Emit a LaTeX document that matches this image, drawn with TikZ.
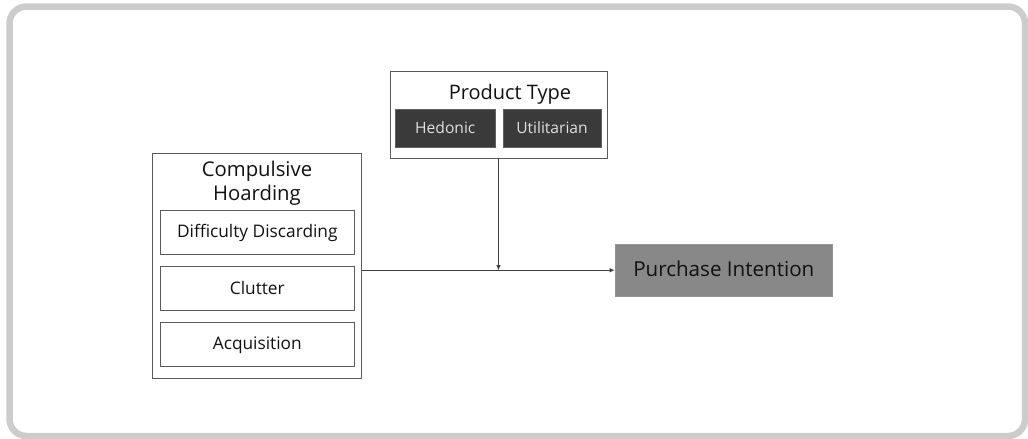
\documentclass[tikz,border=0pt]{standalone}
\usepackage{fontspec}
\setmainfont{Open Sans}
\usetikzlibrary{arrows.meta}
\definecolor{frame}{HTML}{CCCCCC}
\definecolor{edge}{HTML}{5A5A5A}
\definecolor{darkbox}{HTML}{3A3A3A}
\definecolor{midgray}{HTML}{888888}
\definecolor{txt}{HTML}{111111}
\tikzset{
  box/.style={draw=edge, line width=0.9pt, inner sep=0pt, anchor=center, text=txt},
  subbox/.style={box, text height=15.6pt, text depth=4.3pt, minimum width=193.3pt, minimum height=43.3pt, font=\fontsize{17.3}{20}\selectfont},
  darkcell/.style={fill=darkbox, draw=darkbox!80!white, line width=0.6pt, inner sep=0pt, text height=14pt, text depth=3.9pt, minimum height=38.5pt, text=white!88!black, font=\fontsize{15.6}{18}\selectfont},
  conn/.style={draw=black!75, line width=0.8pt, -{Latex[length=5pt,width=4.5pt]}}
}
\begin{document}
\begin{tikzpicture}[x=1pt,y=-1pt]
\useasboundingbox (0,0) rectangle (1028,439);
\draw[frame, line width=6.5pt, rounded corners=17pt] (9.5,6.5) rectangle (1025,436);
% product type group
\node[box, minimum width=217pt, minimum height=87pt] (pt) at (498.5,114.5) {};
\node[text=txt, font=\fontsize{20}{24}\selectfont, inner sep=0pt] (pttitle) at (510,94) {Product\ Type};
\node[darkcell, minimum width=99.3pt] (hed) at (445.3,128.5) {Hedonic};
\node[darkcell, minimum width=98pt] (util) at (552,128.5) {Utilitarian};
% compulsive hoarding group
\node[box, minimum width=209pt, minimum height=225pt] (comp) at (257.2,265.8) {};
\node[text=txt, font=\fontsize{20.3}{23.5}\selectfont, align=center, inner sep=0pt] (comptitle) at (257,183) {Compulsive\\Hoarding};
\node[subbox] (dd) at (257.3,232.3) {Difficulty Discarding};
\node[subbox] (cl) at (257.3,288.5) {Clutter};
\node[subbox] (ac) at (257.3,344.3) {Acquisition};
% outcome
\node[fill=midgray, draw=midgray!90!white, line width=0.6pt, inner sep=0pt, text height=18.5pt, text depth=5.2pt, minimum width=217.7pt, minimum height=51.7pt, text=txt, font=\fontsize{20.6}{24}\selectfont] (pi) at (723.8,270.2) {Purchase Intention};
% connectors
\draw[conn] (comp.east |- pi.west) -- (pi.west);
\draw[conn] (pt.south) -- (pt.south |- pi.west);
\end{tikzpicture}
\end{document}
